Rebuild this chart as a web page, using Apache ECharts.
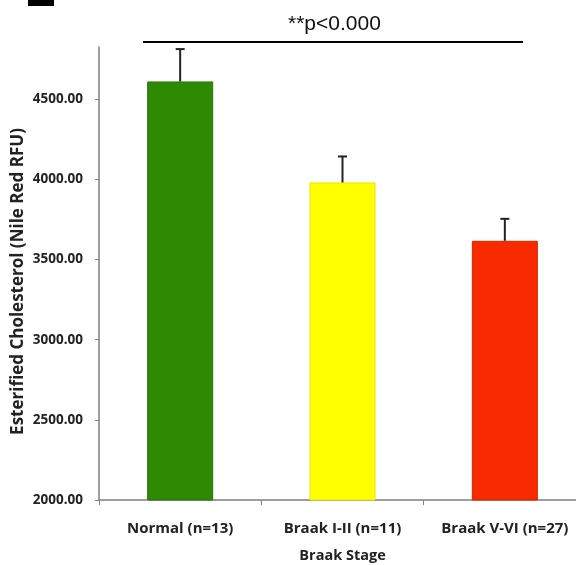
<!DOCTYPE html>
<html>
<head>
<meta charset="utf-8">
<title>Esterified Cholesterol by Braak Stage</title>
<script src="https://cdn.jsdelivr.net/npm/echarts@6/dist/echarts.min.js"></script>
<style>
  html, body { margin: 0; padding: 0; background: #fff; }
  #chart { width: 576px; height: 565px; }
</style>
</head>
<body>
<div id="chart"></div>
<script>
// groups on the x axis
const categories = ["Normal (n=13)", "Braak I-II (n=11)", "Braak V-VI (n=27)"];
// mean esterified cholesterol (Nile Red RFU)
const means = [4611, 3981, 3617];
// upper error (SEM)
const errors = [202, 162, 137];
const barColors = ["#2e8a02", "#ffff00", "#f72a00"];
const borderColors = ["#277400", "#e6e600", "#d92400"];
const yTicks = [2000, 2500, 3000, 3500, 4000, 4500];

const chart = echarts.init(document.getElementById("chart"));

const labelFont = "'Open Sans', 'DejaVu Sans', sans-serif";

// error bar: vertical line from bar top to mean+err, with a short cap
function renderErrorBar(params, api) {
  const x = api.value(0);
  const base = api.coord([x, api.value(1)]);
  const top = api.coord([x, api.value(2)]);
  const half = 4.5;
  const style = { stroke: "#222", lineWidth: 2 };
  return {
    type: "group",
    children: [
      { type: "line", shape: { x1: top[0], y1: top[1], x2: base[0], y2: base[1] }, style: style },
      { type: "line", shape: { x1: top[0] - half, y1: top[1], x2: top[0] + half, y2: top[1] }, style: style },
    ],
  };
}

const option = {
  animation: false,
  backgroundColor: "#fff",
  title: {
    text: "**p<0.000",
    left: 283,
    top: 9,
    textStyle: {
      fontFamily: "'Liberation Sans', Arial, sans-serif",
      fontWeight: "normal",
      fontSize: 21,
      color: "#111",
    },
  },
  graphic: [
    // black block in the upper left corner
    { type: "rect", shape: { x: 28, y: 0, width: 26, height: 6 }, style: { fill: "#000" } },
    // significance line under the p value
    { type: "line", shape: { x1: 143, y1: 42, x2: 523, y2: 42 }, style: { stroke: "#000", lineWidth: 2 } },
  ],
  // keep the grid where it is even though labels run close to the edges
  grid: { left: 99, right: -10, top: 47, bottom: 65, outerBoundsMode: "none" },
  xAxis: {
    type: "category",
    data: categories,
    name: "Braak Stage",
    nameLocation: "middle",
    nameGap: 48,
    nameMoveOverlap: false,
    nameTextStyle: { fontFamily: labelFont, fontWeight: "bold", fontSize: 14.5, color: "#222" },
    axisLine: { lineStyle: { color: "#7f7f7f", width: 1.5 } },
    axisTick: { show: true, alignWithLabel: false, length: 5, lineStyle: { color: "#7f7f7f" } },
    axisLabel: {
      interval: 0,
      hideOverlap: false,
      margin: 21,
      fontFamily: labelFont,
      fontWeight: "bold",
      fontSize: 15,
      color: "#222",
    },
    splitLine: { show: false },
  },
  yAxis: {
    type: "value",
    min: 2000,
    max: 4826,
    interval: 500,
    name: "Esterified Cholesterol (Nile Red RFU)",
    nameLocation: "middle",
    nameRotate: 90,
    nameGap: 72,
    nameMoveOverlap: false,
    // right padding pushes the rotated name a little lower, as in the original
    nameTextStyle: { fontFamily: labelFont, fontWeight: "bold", fontSize: 17, color: "#222", padding: [0, 16, 0, 0] },
    axisLine: { show: true, lineStyle: { color: "#7f7f7f", width: 1.5 } },
    axisTick: { show: true, length: 4, customValues: yTicks, lineStyle: { color: "#7f7f7f" } },
    axisLabel: {
      customValues: yTicks,
      margin: 16,
      fontFamily: labelFont,
      fontWeight: "bold",
      fontSize: 13.5,
      color: "#222",
      formatter: (v) => v.toFixed(2),
    },
    splitLine: { show: false },
  },
  series: [
    {
      type: "bar",
      barWidth: 66,
      data: means.map((v, i) => ({
        value: v,
        itemStyle: { color: barColors[i], borderColor: borderColors[i], borderWidth: 1 },
      })),
    },
    {
      type: "custom",
      renderItem: renderErrorBar,
      encode: { x: 0, y: [1, 2] },
      z: 5,
      data: means.map((v, i) => [i, v, v + errors[i]]),
    },
  ],
};

chart.setOption(option);
</script>
</body>
</html>
